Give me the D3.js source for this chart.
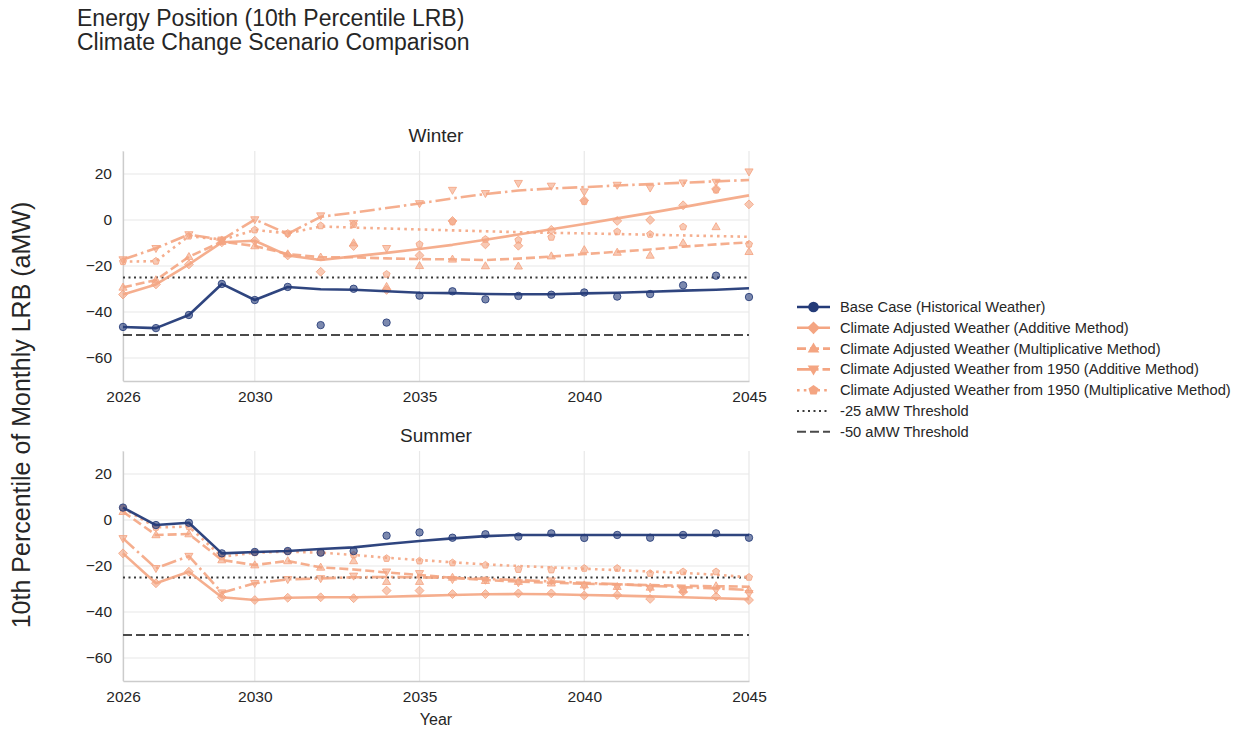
<!DOCTYPE html>
<html>
<head>
<meta charset="utf-8">
<script src="https://cdn.jsdelivr.net/npm/d3@7"></script>
<style>
  body { margin: 0; background: #fff; }
  svg { font-family: "Liberation Sans", Arial, Helvetica, sans-serif; }
</style>
</head>
<body>
<svg id="chart" width="1242" height="730"></svg>
<script>
// ---- data ----
const years = [2026, 2027, 2028, 2029, 2030, 2031, 2032, 2033, 2034, 2035,
               2036, 2037, 2038, 2039, 2040, 2041, 2042, 2043, 2044, 2045];
const xTicks = [2026, 2030, 2035, 2040, 2045];
const yTicks = [20, 0, -20, -40, -60];
const seasons = ["Winter", "Summer"];
const seriesNames = [
  "Base Case (Historical Weather)",
  "Climate Adjusted Weather (Additive Method)",
  "Climate Adjusted Weather (Multiplicative Method)",
  "Climate Adjusted Weather from 1950 (Additive Method)",
  "Climate Adjusted Weather from 1950 (Multiplicative Method)"
];
const thresholdValues = [-25, -50];
const thresholdNames = ["-25 aMW Threshold", "-50 aMW Threshold"];

// Winter: trend lines and yearly values
const winterBaseLine = [-46.5, -47, -41.3, -27.8, -34.8, -29.1, -30.1, -30.3, -31.0, -31.6, -31.8, -32.2, -32.3, -32.3, -31.9, -31.6, -31.2, -30.7, -30.3, -29.7];
const winterBasePts  = [-46.5, -47, -41.3, -27.8, -34.8, -29.1, -45.7, -29.9, -44.6, -32.9, -31.0, -34.5, -33.0, -32.5, -31.5, -33.3, -32.2, -28.4, -24.2, -33.5];
const winterAddLine  = [-32.4, -28, -19.3, -9.7, -9.0, -15.4, -17.4, -15.8, -14.3, -12.6, -10.8, -8.6, -6.3, -4.0, -1.7, 0.7, 3.1, 5.6, 8.2, 10.7];
const winterAddPts   = [-32.4, -28, -19.3, -9.7, -9.0, -15.4, -22.5, -11.3, -30.4, -15.4, -0.4, -10.6, -11.2, -4.3, 8.5, -0.4, 0.0, 6.4, 13.5, 6.8];
const winterMulLine  = [-29.3, -26.1, -16, -9.4, -11.3, -14.8, -16.2, -16.2, -16.7, -17.0, -17.1, -17.4, -16.8, -15.9, -14.8, -13.8, -12.8, -11.6, -10.6, -9.7];
const winterMulPts   = [-29.3, -26.1, -16, -9.4, -11.3, -14.8, -16.2, -10.0, -29.0, -19.9, -17.1, -20.0, -20.1, -15.7, -13.0, -14.1, -15.4, -10.0, -3.0, -13.8];
const winterAdd50Line = [-17.2, -12.3, -6.3, -8.6, 0.2, -6.0, 1.4, 3.2, 5.2, 7.2, 9.4, 11.3, 12.8, 13.7, 14.3, 15.0, 15.6, 16.2, 16.8, 17.4];
const winterAdd50Pts  = [-17.2, -12.3, -6.3, -8.6, 0.2, -6.0, 1.9, -1.4, -12.3, 7.2, 13.0, 11.6, 16.0, 14.8, 12.3, 15.2, 14.0, 16.2, 16.5, 21.0];
const winterMul50Line = [-18.1, -17.9, -7.0, -8.7, -4.3, -5.8, -2.8, -3.3, -3.7, -4.1, -4.5, -4.9, -5.3, -5.6, -5.8, -6.1, -6.4, -6.7, -7.0, -7.3];
const winterMul50Pts  = [-18.1, -17.9, -7.0, -8.7, -4.3, -5.8, -2.5, -2.0, -23.6, -10.6, -0.8, -8.4, -8.7, -7.5, 8.0, -5.1, -6.2, -3.0, 13.0, -10.5];

// Summer: trend lines and yearly values
const summerBaseLine = [5.4, -2.2, -1.2, -14.5, -13.9, -13.5, -12.6, -11.9, -10.4, -9.1, -8.0, -7.0, -6.5, -6.5, -6.5, -6.5, -6.5, -6.5, -6.5, -6.5];
const summerBasePts  = [5.4, -2.2, -1.2, -14.5, -13.9, -13.5, -14.2, -13.5, -6.8, -5.4, -7.7, -6.2, -7.2, -5.8, -7.8, -6.5, -7.7, -6.5, -5.8, -7.7];
const summerAddLine  = [-14.5, -27.5, -22.5, -33.6, -34.8, -33.8, -33.6, -33.6, -33.4, -33.0, -32.6, -32.3, -32.2, -32.3, -32.6, -32.9, -33.2, -33.6, -34.0, -34.4];
const summerAddPts   = [-14.5, -27.5, -22.5, -33.6, -34.8, -33.8, -33.6, -34.0, -30.7, -30.7, -32.2, -32.2, -31.9, -31.9, -32.8, -32.6, -34.3, -31.2, -33.3, -34.8];
const summerMulLine  = [3.6, -6.5, -6.1, -17.4, -19.6, -17.8, -20.6, -21.5, -22.8, -23.9, -25.1, -26.1, -26.8, -27.3, -27.7, -28.0, -28.3, -28.6, -28.8, -29.0];
const summerMulPts   = [3.6, -6.5, -6.1, -17.4, -19.6, -17.8, -20.6, -17.8, -26.8, -26.8, -25.0, -26.4, -26.8, -27.5, -28.3, -29.0, -29.3, -30.4, -28.7, -30.4];
const summerAdd50Line = [-8.0, -21.0, -15.7, -31.6, -27.5, -25.8, -25.4, -24.9, -24.8, -24.9, -25.2, -25.6, -26.1, -26.7, -27.3, -27.9, -28.6, -29.2, -29.8, -30.4];
const summerAdd50Pts  = [-8.0, -21.0, -15.7, -31.6, -27.5, -25.8, -25.4, -24.3, -22.5, -23.2, -25.8, -26.1, -27.2, -26.4, -28.7, -29.0, -29.7, -30.7, -30.4, -31.9];
const summerMul50Line = [5.1, -3.2, -2.9, -16.0, -14.2, -13.8, -14.2, -15.2, -16.4, -17.4, -18.4, -19.3, -20.0, -20.6, -21.2, -21.8, -22.4, -23.0, -23.8, -24.9];
const summerMul50Pts  = [5.1, -3.2, -2.9, -16.0, -14.2, -13.8, -14.2, -15.2, -16.7, -17.8, -18.6, -19.6, -21.5, -21.7, -21.0, -21.0, -23.2, -22.5, -22.5, -24.9];

// ---- styles ----
const NAVY = "#243b78";
const SALMON = "#f4a582";
const styles = [
  { color: NAVY,   dash: null,            marker: "circle",  width: 2.6 },
  { color: SALMON, dash: null,            marker: "diamond", width: 2.6 },
  { color: SALMON, dash: "9,4",           marker: "triangle", width: 2.6 },
  { color: SALMON, dash: "15,4,2.5,4",    marker: "tridown", width: 2.6 },
  { color: SALMON, dash: "2.6,4.2",       marker: "pentagon", width: 2.6 }
];
const thresholdStyles = [
  { color: "#3a3a3a", dash: "2,3.5", width: 2 },
  { color: "#4a4a4a", dash: "9,4",   width: 2 }
];

const panelData = {
  Winter: {
    lines: [winterBaseLine, winterAddLine, winterMulLine, winterAdd50Line, winterMul50Line],
    points: [winterBasePts, winterAddPts, winterMulPts, winterAdd50Pts, winterMul50Pts]
  },
  Summer: {
    lines: [summerBaseLine, summerAddLine, summerMulLine, summerAdd50Line, summerMul50Line],
    points: [summerBasePts, summerAddPts, summerMulPts, summerAdd50Pts, summerMul50Pts]
  }
};

// ---- marker shapes ----
function markerPath(type, r) {
  const pts = [];
  if (type === "circle") {
    return `M${r},0A${r},${r},0,1,1,${-r},0A${r},${r},0,1,1,${r},0Z`;
  }
  if (type === "diamond") {
    pts.push([0, -r * 1.2], [r * 1.2, 0], [0, r * 1.2], [-r * 1.2, 0]);
  } else if (type === "triangle") {
    pts.push([0, -r * 1.15], [r * 1.1, r * 0.75], [-r * 1.1, r * 0.75]);
  } else if (type === "tridown") {
    pts.push([0, r * 1.15], [r * 1.1, -r * 0.75], [-r * 1.1, -r * 0.75]);
  } else if (type === "pentagon") {
    for (let k = 0; k < 5; k++) {
      const a = -Math.PI / 2 + k * 2 * Math.PI / 5;
      pts.push([r * Math.cos(a), r * Math.sin(a)]);
    }
  }
  return "M" + pts.map(p => p[0].toFixed(2) + "," + p[1].toFixed(2)).join("L") + "Z";
}

// ---- layout ----
const svg = d3.select("#chart");
const plotLeft = 123, plotRight = 749;
const panelTops = [151, 451];
const panelHeight = 230;
const INK = "#262626";

const x = d3.scaleLinear().domain([2026, 2045]).range([plotLeft, plotRight]);

// Title
const title = svg.append("g").attr("fill", INK).attr("font-size", 23);
title.append("text").attr("x", 77).attr("y", 26).text("Energy Position (10th Percentile LRB)");
title.append("text").attr("x", 77).attr("y", 50).text("Climate Change Scenario Comparison");

seasons.forEach((season, si) => {
  const top = panelTops[si];
  const y = d3.scaleLinear().domain([-70, 30]).range([top + panelHeight, top]);
  const g = svg.append("g");
  const data = panelData[season];

  // grid
  g.append("g").selectAll("line").data(yTicks).join("line")
    .attr("x1", plotLeft).attr("x2", plotRight)
    .attr("y1", d => y(d)).attr("y2", d => y(d))
    .attr("stroke", "#e8e8e8").attr("stroke-width", 1.2);
  g.append("g").selectAll("line").data(xTicks).join("line")
    .attr("x1", d => x(d)).attr("x2", d => x(d))
    .attr("y1", top).attr("y2", top + panelHeight)
    .attr("stroke", "#e8e8e8").attr("stroke-width", 1.2);

  // axes
  const yAxis = g.append("g").attr("transform", `translate(${plotLeft},0)`)
    .call(d3.axisLeft(y).tickValues(yTicks).tickSize(0).tickPadding(11));
  const xAxis = g.append("g").attr("transform", `translate(0,${top + panelHeight})`)
    .call(d3.axisBottom(x).tickValues(xTicks).tickFormat(d3.format("d")).tickSize(0).tickPadding(10));
  [yAxis, xAxis].forEach(a => {
    a.select(".domain").attr("stroke", "#cccccc").attr("stroke-width", 1.3);
    a.selectAll("text").attr("font-size", 15.5).attr("fill", INK)
      .attr("font-family", "'Liberation Sans', Arial, sans-serif");
  });

  // panel title
  g.append("text").attr("x", (plotLeft + plotRight) / 2).attr("y", top - 9)
    .attr("text-anchor", "middle").attr("font-size", 19).attr("fill", INK).text(season);

  // thresholds
  thresholdValues.forEach((v, ti) => {
    const st = thresholdStyles[ti];
    g.append("line").attr("x1", plotLeft).attr("x2", plotRight)
      .attr("y1", y(v)).attr("y2", y(v))
      .attr("stroke", st.color).attr("stroke-width", st.width)
      .attr("stroke-dasharray", st.dash);
  });

  const line = d3.line().x((d, i) => x(years[i])).y(d => y(d));

  // draw climate series first, base case on top
  const order = [1, 2, 3, 4, 0];
  order.forEach(k => {
    const st = styles[k];
    g.append("path").datum(data.lines[k])
      .attr("d", line)
      .attr("fill", "none")
      .attr("stroke", st.color)
      .attr("stroke-width", st.width)
      .attr("stroke-opacity", k === 0 ? 0.95 : 0.9)
      .attr("stroke-linejoin", "round")
      .attr("stroke-dasharray", st.dash);
    g.append("g").selectAll("path").data(data.points[k]).join("path")
      .attr("transform", (d, i) => `translate(${x(years[i])},${y(d)})`)
      .attr("d", markerPath(st.marker, 3.7))
      .attr("fill", st.color).attr("fill-opacity", 0.6)
      .attr("stroke", st.color).attr("stroke-opacity", 0.85).attr("stroke-width", 1);
  });
});

// axis titles
svg.append("text").attr("x", 436).attr("y", 725).attr("text-anchor", "middle")
  .attr("font-size", 16).attr("fill", INK).text("Year");
svg.append("text").attr("transform", "translate(30,415) rotate(-90)")
  .attr("text-anchor", "middle").attr("font-size", 25).attr("fill", INK)
  .text("10th Percentile of Monthly LRB (aMW)");

// legend
const legend = svg.append("g").attr("transform", "translate(797,307)");
const rowH = 20.8;
seriesNames.forEach((name, k) => {
  const st = styles[k];
  const row = legend.append("g").attr("transform", `translate(0,${k * rowH})`);
  row.append("line").attr("x1", 0).attr("x2", 33).attr("y1", 0).attr("y2", 0)
    .attr("stroke", st.color).attr("stroke-width", 2.6)
    .attr("stroke-dasharray", st.dash);
  row.append("path").attr("transform", "translate(16.5,0)")
    .attr("d", markerPath(st.marker, 5.3)).attr("fill", st.color);
  row.append("text").attr("x", 43).attr("y", 5).attr("font-size", 14.7)
    .attr("fill", INK).text(name);
});
thresholdNames.forEach((name, ti) => {
  const st = thresholdStyles[ti];
  const row = legend.append("g").attr("transform", `translate(0,${(5 + ti) * rowH})`);
  row.append("line").attr("x1", 0).attr("x2", 33).attr("y1", 0).attr("y2", 0)
    .attr("stroke", st.color).attr("stroke-width", st.width)
    .attr("stroke-dasharray", st.dash);
  row.append("text").attr("x", 43).attr("y", 5).attr("font-size", 14.7)
    .attr("fill", INK).text(name);
});
</script>
</body>
</html>
